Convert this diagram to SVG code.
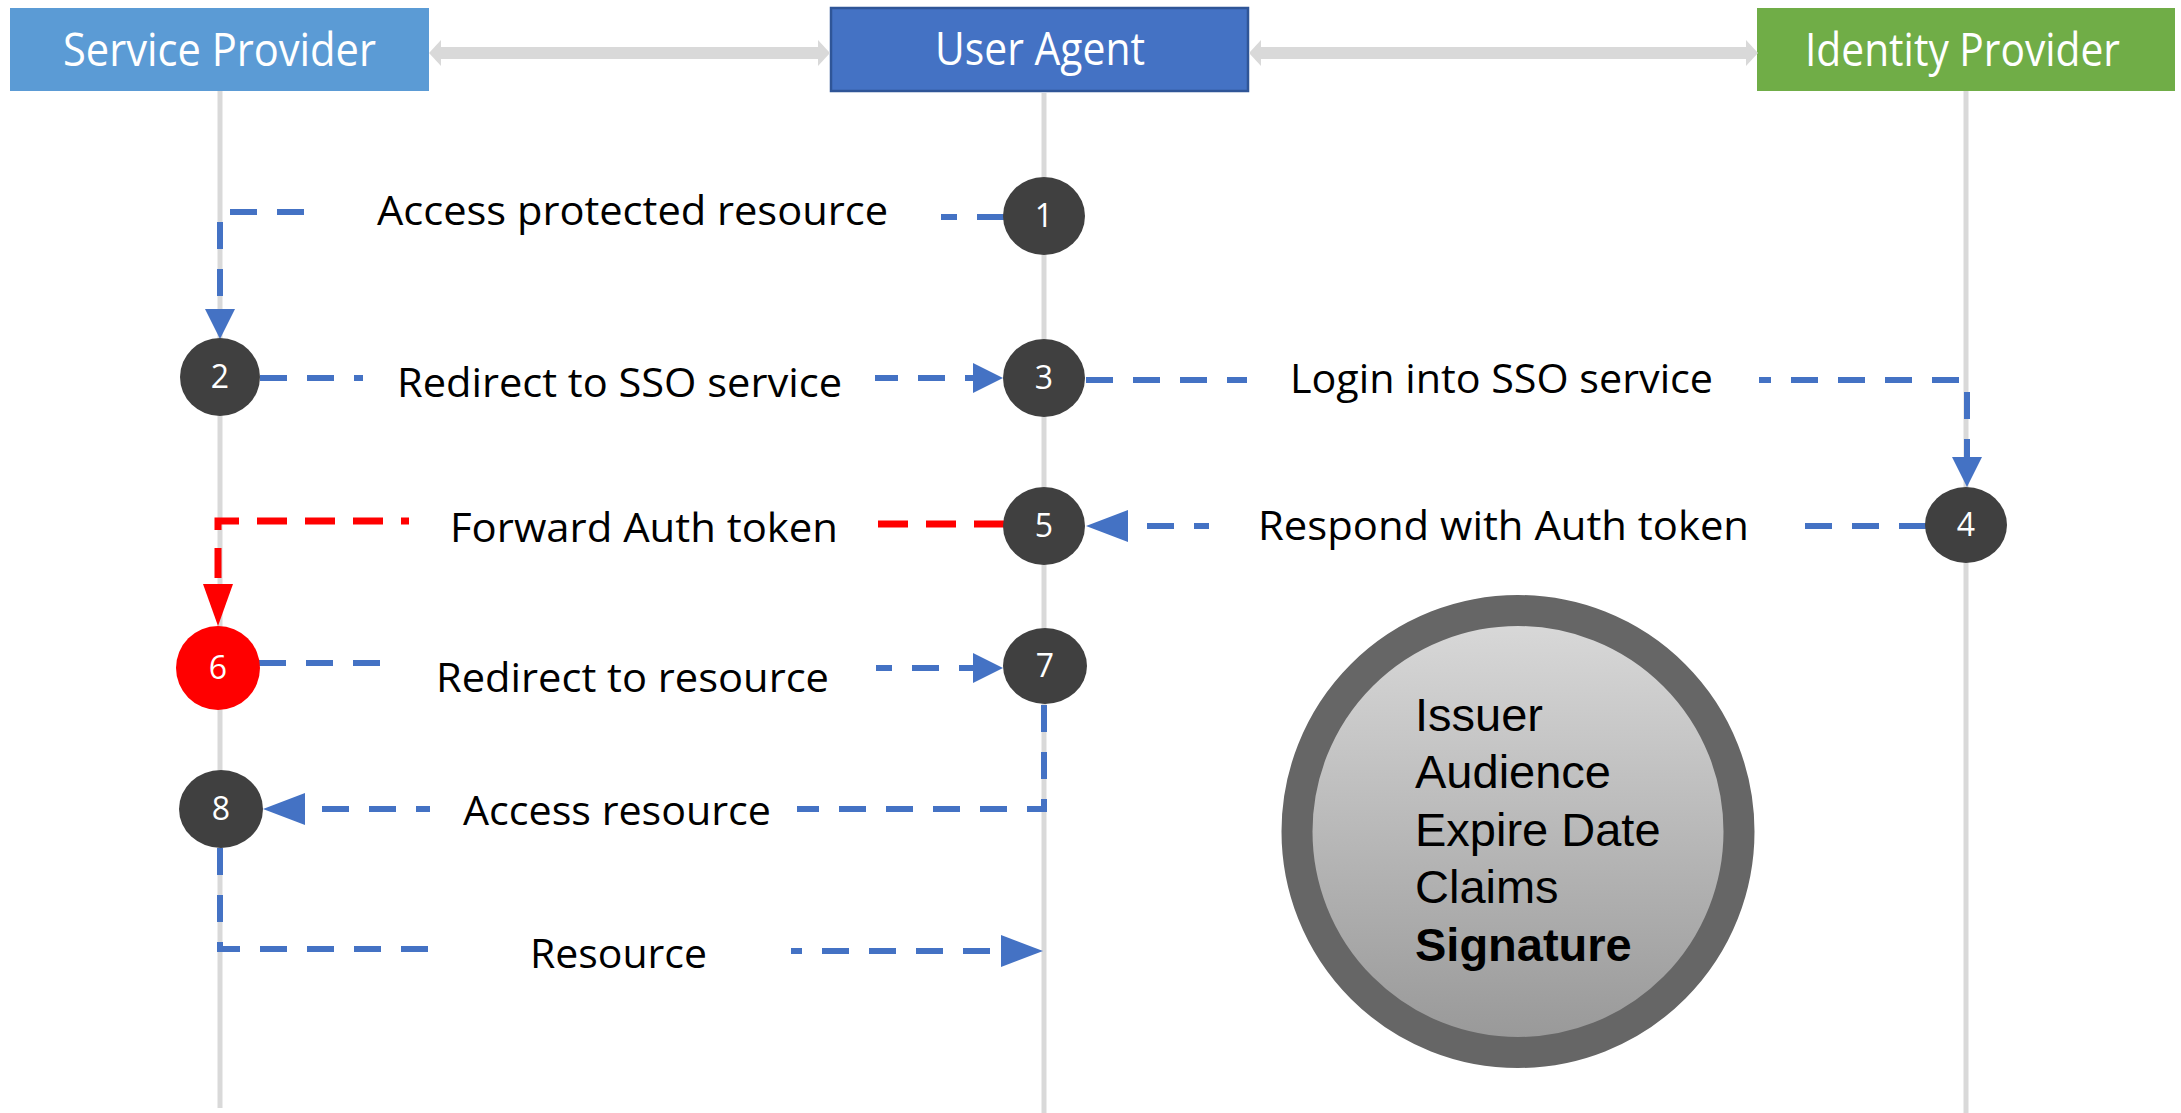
<svg xmlns="http://www.w3.org/2000/svg" width="2181" height="1113" viewBox="0 0 2181 1113">
  <style>
    .hdr { font-family: "Open Sans", "Noto Sans", sans-serif; font-size: 45px; fill: #FFFFFF; }
    .lbl { font-family: "Open Sans", "Noto Sans", sans-serif; font-size: 40px; fill: #000000; }
    .num { font-family: "Open Sans", "Noto Sans", sans-serif; font-size: 32px; fill: #FFFFFF; text-anchor: middle; }
    .tok { font-family: "Liberation Sans", Arial, sans-serif; font-size: 47px; fill: #000000; }
    .life { stroke: #D9D9D9; stroke-width: 5; fill: none; }
    .link { stroke: #D9D9D9; stroke-width: 12; fill: none; }
    .msg { stroke: #4472C4; stroke-width: 6; fill: none; stroke-dasharray: 27 20; }
    .msg-red { stroke: #FF0000; stroke-width: 7; fill: none; stroke-dasharray: 30 18; }
    .bg { fill: #FFFFFF; }
    .step { fill: #404040; }
  </style>
  <defs>
    <marker id="arrS" viewBox="0 0 30 30" refX="0" refY="15" markerWidth="30" markerHeight="30" markerUnits="userSpaceOnUse" orient="auto">
      <path d="M0,0 L30,15 L0,30 Z" fill="#4472C4"/>
    </marker>
    <marker id="arrL" viewBox="0 0 42 32" refX="0" refY="16" markerWidth="42" markerHeight="32" markerUnits="userSpaceOnUse" orient="auto">
      <path d="M0,0 L42,16 L0,32 Z" fill="#4472C4"/>
    </marker>
    <marker id="arrR" viewBox="0 0 42 30" refX="0" refY="15" markerWidth="42" markerHeight="30" markerUnits="userSpaceOnUse" orient="auto">
      <path d="M0,0 L42,15 L0,30 Z" fill="#FF0000"/>
    </marker>
    <marker id="arrG" viewBox="0 0 12 26" refX="0" refY="13" markerWidth="12" markerHeight="26" markerUnits="userSpaceOnUse" orient="auto-start-reverse">
      <path d="M0,0 L12,13 L0,26 Z" fill="#D9D9D9"/>
    </marker>
    <linearGradient id="tokFill" x1="0" y1="0" x2="0" y2="1">
      <stop offset="0" stop-color="#DADADA"/>
      <stop offset="1" stop-color="#979797"/>
    </linearGradient>
  </defs>

  <rect width="2181" height="1113" fill="#FFFFFF"/>

  <!-- lifelines -->
  <g id="lifelines">
    <line class="life" x1="220" y1="91" x2="220" y2="1108"/>
    <line class="life" x1="1044" y1="93" x2="1044" y2="1113"/>
    <line class="life" x1="1966" y1="91" x2="1966" y2="1113"/>
  </g>

  <!-- participants -->
  <g id="service-provider">
    <rect x="10" y="8" width="419" height="83" fill="#5B9BD5"/>
    <text class="hdr" x="63" y="66" textLength="313" lengthAdjust="spacingAndGlyphs">Service Provider</text>
  </g>
  <g id="user-agent">
    <rect x="831" y="8" width="417" height="83" fill="#4472C4" stroke="#2F5597" stroke-width="2.5"/>
    <text class="hdr" x="935" y="65" textLength="210" lengthAdjust="spacingAndGlyphs">User Agent</text>
  </g>
  <g id="identity-provider">
    <rect x="1757" y="8" width="418" height="83" fill="#70AD47"/>
    <text class="hdr" x="1805" y="66" textLength="315" lengthAdjust="spacingAndGlyphs">Identity Provider</text>
  </g>

  <!-- connectors -->
  <g id="connectors">
    <line class="link" x1="441" y1="53" x2="818" y2="53" marker-start="url(#arrG)" marker-end="url(#arrG)"/>
    <line class="link" x1="1261" y1="53" x2="1746" y2="53" marker-start="url(#arrG)" marker-end="url(#arrG)"/>

    <g id="msg-1">
      <path class="msg" d="M1004,217 H640 V212 H220 V309" marker-end="url(#arrS)"/>
      <rect class="bg" x="324" y="188" width="617" height="52"/>
      <text class="lbl" x="377" y="225" textLength="511" lengthAdjust="spacingAndGlyphs">Access protected resource</text>
    </g>
    <g id="msg-2">
      <path class="msg" d="M260,378 H973" marker-end="url(#arrS)"/>
      <rect class="bg" x="363" y="355" width="512" height="52"/>
      <text class="lbl" x="397" y="397" textLength="445" lengthAdjust="spacingAndGlyphs">Redirect to SSO service</text>
    </g>
    <g id="msg-3">
      <path class="msg" d="M1086,380 H1967 V457" marker-end="url(#arrS)"/>
      <rect class="bg" x="1247" y="352" width="512" height="52"/>
      <text class="lbl" x="1290" y="393" textLength="423" lengthAdjust="spacingAndGlyphs">Login into SSO service</text>
    </g>
    <g id="msg-4">
      <path class="msg" d="M1926,526 H1128" marker-end="url(#arrL)"/>
      <rect class="bg" x="1209" y="500" width="596" height="52"/>
      <text class="lbl" x="1258" y="540" textLength="491" lengthAdjust="spacingAndGlyphs">Respond with Auth token</text>
    </g>
    <g id="msg-5">
      <path class="msg-red" d="M1004,524 H640 V521 H218 V584" marker-end="url(#arrR)"/>
      <rect class="bg" x="409" y="500" width="467" height="52"/>
      <text class="lbl" x="450" y="542" textLength="388" lengthAdjust="spacingAndGlyphs">Forward Auth token</text>
    </g>
    <g id="msg-6">
      <path class="msg" d="M259,663 H640 V668 H973" marker-end="url(#arrS)"/>
      <rect class="bg" x="390" y="645" width="486" height="58"/>
      <text class="lbl" x="436" y="692" textLength="393" lengthAdjust="spacingAndGlyphs">Redirect to resource</text>
    </g>
    <g id="msg-7">
      <path class="msg" d="M1044,705 V809 H305" marker-end="url(#arrL)"/>
      <rect class="bg" x="430" y="785" width="367" height="52"/>
      <text class="lbl" x="463" y="825" textLength="308" lengthAdjust="spacingAndGlyphs">Access resource</text>
    </g>
    <g id="msg-8">
      <path class="msg" d="M220,848 V949 H620 V951 H1001" marker-end="url(#arrL)"/>
      <rect class="bg" x="445" y="925" width="346" height="52"/>
      <text class="lbl" x="530" y="968" textLength="177" lengthAdjust="spacingAndGlyphs">Resource</text>
    </g>
  </g>

  <!-- numbered steps -->
  <g id="step-1"><ellipse class="step" cx="1044" cy="216" rx="41" ry="39"/><text class="num" x="1044" y="227">1</text></g>
  <g id="step-2"><ellipse class="step" cx="220" cy="377" rx="40" ry="39"/><text class="num" x="220" y="388">2</text></g>
  <g id="step-3"><ellipse class="step" cx="1044" cy="378" rx="41" ry="39"/><text class="num" x="1044" y="389">3</text></g>
  <g id="step-4"><ellipse class="step" cx="1966" cy="525" rx="41" ry="38"/><text class="num" x="1966" y="536">4</text></g>
  <g id="step-5"><ellipse class="step" cx="1044" cy="526" rx="41" ry="39"/><text class="num" x="1044" y="537">5</text></g>
  <g id="step-6"><ellipse cx="218" cy="668" rx="42" ry="42" fill="#FF0000"/><text class="num" x="218" y="679">6</text></g>
  <g id="step-7"><ellipse class="step" cx="1045" cy="666" rx="42" ry="38"/><text class="num" x="1045" y="677">7</text></g>
  <g id="step-8"><ellipse class="step" cx="221" cy="809" rx="42" ry="39"/><text class="num" x="221" y="820">8</text></g>

  <!-- token contents -->
  <g id="token">
    <circle cx="1518" cy="831.5" r="221" fill="url(#tokFill)" stroke="#666666" stroke-width="31"/>
    <text class="tok" x="1415" y="731">Issuer</text>
    <text class="tok" x="1415" y="788">Audience</text>
    <text class="tok" x="1415" y="846">Expire Date</text>
    <text class="tok" x="1415" y="903">Claims</text>
    <text class="tok" x="1415" y="961" font-weight="bold">Signature</text>
  </g>
</svg>
